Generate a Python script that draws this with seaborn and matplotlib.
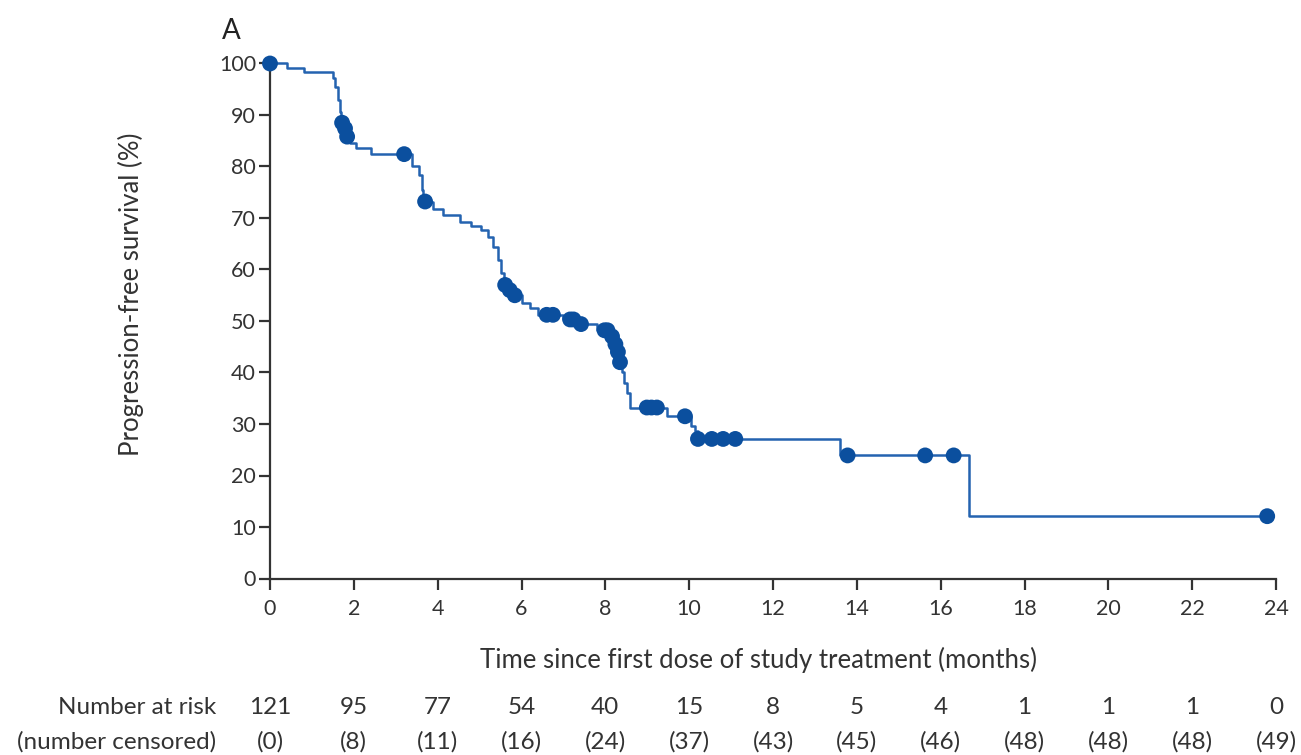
import numpy as np
import pandas as pd
import matplotlib
matplotlib.use("Agg")
import matplotlib.pyplot as plt
import seaborn as sns

# Kaplan-Meier estimate: times (months) at which the curve steps, and the survival (%) after each step
step_times = [0.00, 0.40, 0.80, 1.50, 1.56, 1.62, 1.67, 1.70, 1.78, 1.83, 1.92, 2.05, 2.40,
              3.38, 3.55, 3.62, 3.66, 3.88, 4.12, 4.53, 4.80, 5.04, 5.20, 5.32, 5.43, 5.52,
              5.58, 5.70, 5.80, 6.00, 6.20, 6.40, 7.00, 7.35, 7.80, 8.14, 8.22, 8.28, 8.33,
              8.40, 8.45, 8.52, 8.60, 9.47, 10.05, 10.13, 10.20, 13.60, 16.67]
step_surv = [100.0, 99.2, 98.3, 97.1, 95.5, 93.0, 90.5, 88.5, 87.4, 85.8, 84.5, 83.5, 82.4,
             80.0, 78.3, 75.5, 73.2, 71.7, 70.6, 69.3, 68.4, 67.7, 66.4, 64.4, 61.8, 59.3,
             57.0, 56.0, 55.0, 53.5, 52.5, 51.2, 50.3, 49.4, 48.2, 47.0, 45.5, 44.0, 42.0,
             40.0, 38.0, 36.0, 33.2, 31.5, 29.6, 28.7, 27.1, 23.9, 12.1]

# Censored observations (months)
censor_times = [0.00, 1.72, 1.79, 1.84, 3.20, 3.70, 5.61, 5.72, 5.84, 6.60, 6.75, 7.16, 7.24,
                7.42, 7.98, 8.05, 8.16, 8.24, 8.30, 8.35, 8.99, 9.10, 9.23, 9.90, 10.21,
                10.54, 10.81, 11.10, 13.78, 15.63, 16.31, 23.79]

# Number-at-risk table
risk_times = [0, 2, 4, 6, 8, 10, 12, 14, 16, 18, 20, 22, 24]
n_at_risk = [121, 95, 77, 54, 40, 15, 8, 5, 4, 1, 1, 1, 0]
n_censored = [0, 8, 11, 16, 24, 37, 43, 45, 46, 48, 48, 48, 49]

line_color = "#2463b0"
marker_color = "#0b4f9e"
ink = "#333333"

sns.set_style("ticks")
plt.rcParams["font.family"] = ["Lato", "DejaVu Sans"]
plt.rcParams["text.color"] = ink

W, H = 1301, 755
fig = plt.figure(figsize=(W / 100, H / 100), dpi=100)
ax = fig.add_axes([270 / W, 1 - 578.5 / H, 1006 / W, 515 / H])

# Step curve runs until the last censored patient
curve = pd.DataFrame({
    "time": step_times + [censor_times[-1]],
    "surv": step_surv + [step_surv[-1]],
})
sns.lineplot(data=curve, x="time", y="surv", drawstyle="steps-post", estimator=None,
             sort=False, color=line_color, linewidth=1.8, ax=ax, clip_on=False, zorder=3)

# Censor marks sit on the curve
idx = np.searchsorted(np.array(step_times), np.array(censor_times), side="right") - 1
cens = pd.DataFrame({"time": censor_times, "surv": np.array(step_surv)[idx]})
sns.scatterplot(data=cens, x="time", y="surv", color=marker_color, s=130, edgecolor="none",
                ax=ax, clip_on=False, zorder=4)

ax.set_xlim(0, 24)
ax.set_ylim(0, 100)
ax.set_xticks(risk_times)
ax.set_yticks(range(0, 101, 10))
ax.tick_params(axis="both", colors=ink, labelcolor=ink, labelsize=15.5, length=8, width=1.6)
ax.tick_params(axis="x", pad=7)
ax.tick_params(axis="y", pad=2)
for side in ("top", "right"):
    ax.spines[side].set_visible(False)
for side in ("left", "bottom"):
    ax.spines[side].set_color(ink)
    ax.spines[side].set_linewidth(1.6)
ax.set_xlabel("")
ax.set_ylabel("")

fig.text(758 / W, 1 - 660 / H, "Time since first dose of study treatment (months)",
         fontsize=18.5, ha="center", va="center")
fig.text(131 / W, 1 - 294 / H, "Progression-free survival (%)", fontsize=18.5,
         rotation=90, ha="center", va="center")

fig.text(231 / W, 1 - 31 / H, "A", fontsize=20, color="#222222", ha="center", va="center")

# Risk table below the axis
y_risk = 1 - 708 / H
y_cens = 1 - 742 / H
fig.text(216 / W, y_risk, "Number at risk", fontsize=17.5, ha="right", va="center")
fig.text(216 / W, y_cens, "(number censored)", fontsize=17.5, ha="right", va="center")
for t, n, c in zip(risk_times, n_at_risk, n_censored):
    xf = fig.transFigure.inverted().transform(ax.transData.transform((t, 0)))[0]
    fig.text(xf, y_risk, str(n), fontsize=17.5, ha="center", va="center")
    fig.text(xf, y_cens, f"({c})", fontsize=17.5, ha="center", va="center")

fig.savefig("out.png", dpi=100, facecolor="white")
